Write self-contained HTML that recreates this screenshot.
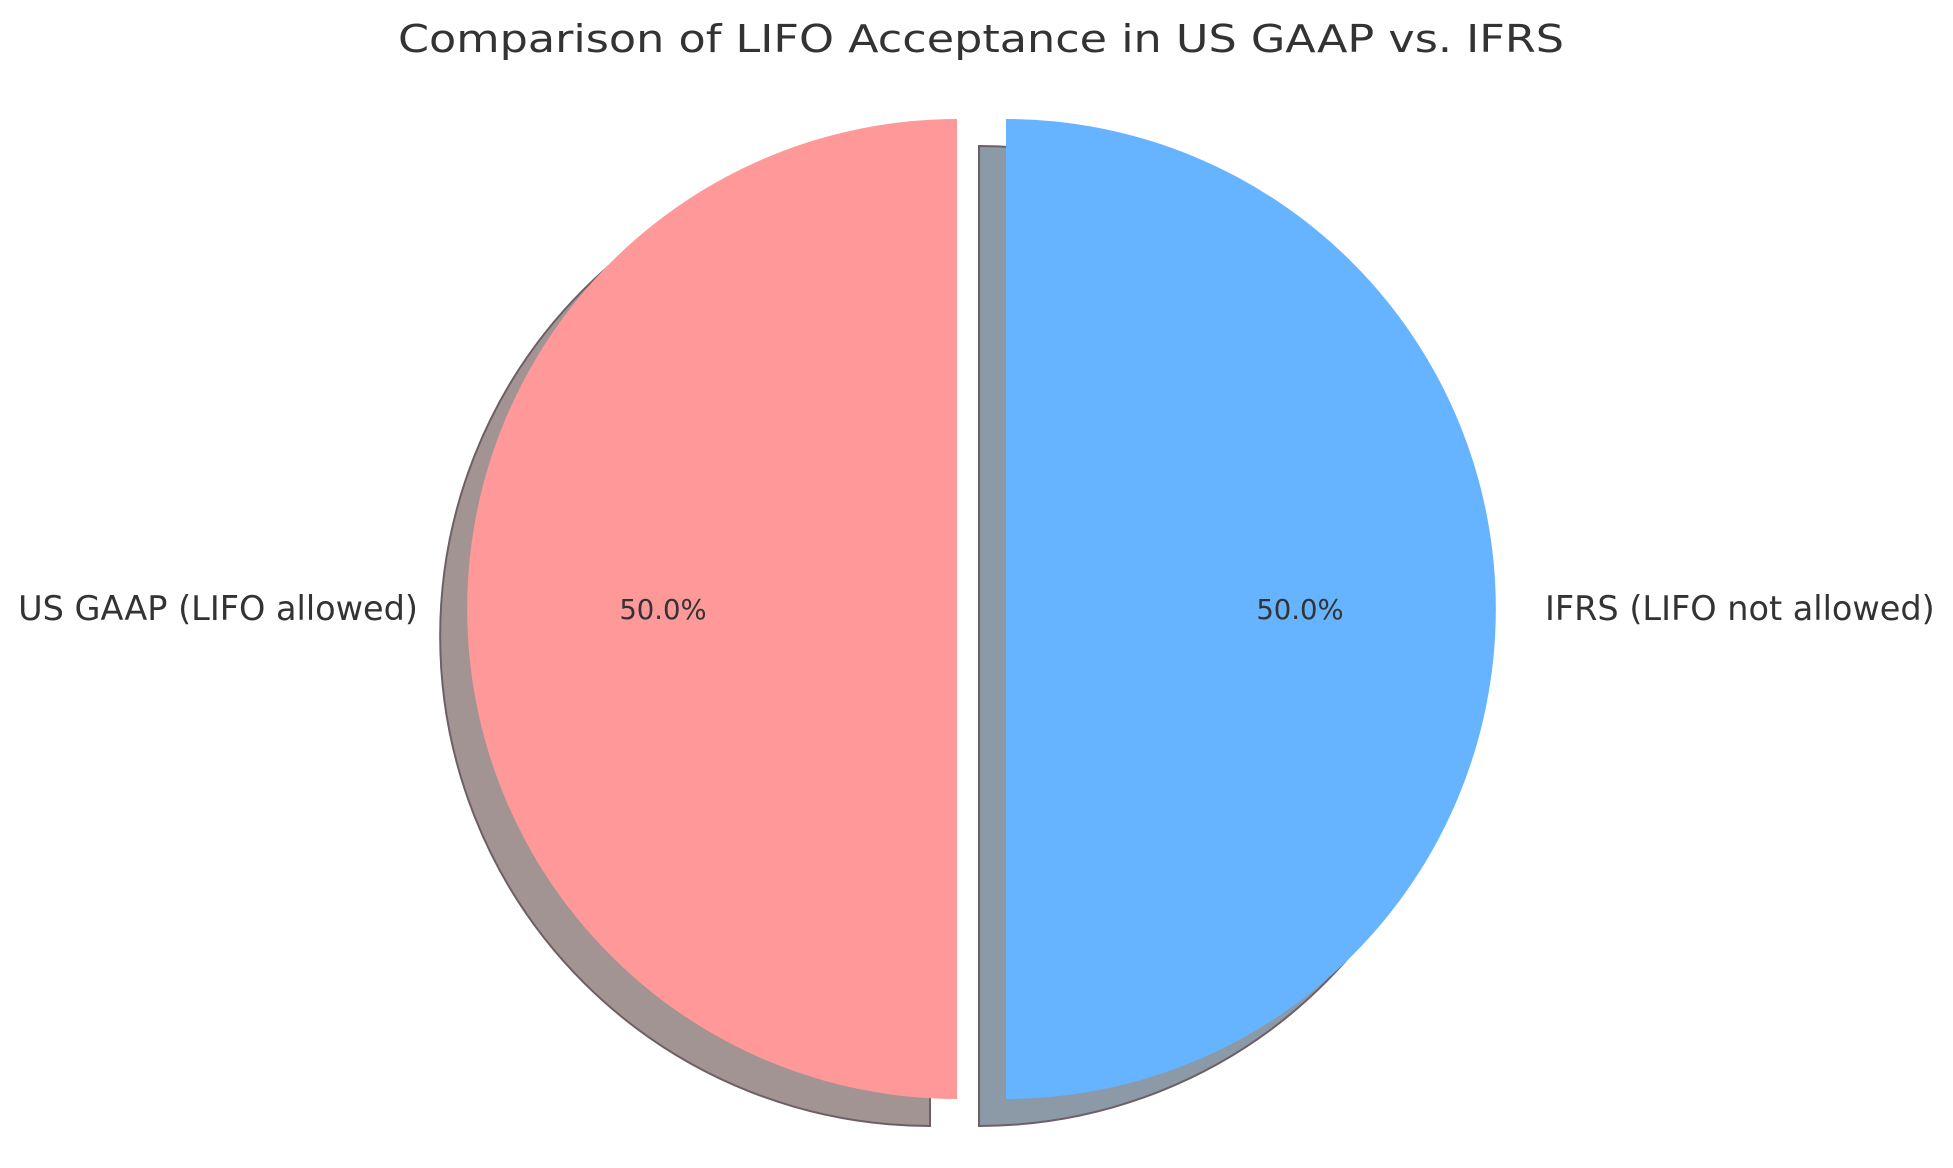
<!DOCTYPE html>
<html><head><meta charset="utf-8"><style>
html,body{margin:0;padding:0;background:#fff;}
svg{display:block;font-family:"DejaVu Sans","Liberation Sans",sans-serif;}
</style></head><body>
<svg id="chart" width="1953" height="1168" viewBox="0 0 1953 1168">
<text x="981" y="52" text-anchor="middle" font-size="38" fill="#333" textLength="1166" lengthAdjust="spacingAndGlyphs">Comparison of LIFO Acceptance in US GAAP vs. IFRS</text>
<g id="shadows"></g><g id="wedges"></g><g id="labels"></g>
</svg>
<script>
const categories = ["US GAAP (LIFO allowed)", "IFRS (LIFO not allowed)"];
const values = [50, 50];
const colors = ["#ff9999", "#66b3ff"];
const shadowColors = ["#a39494", "#8c9aa8"];
const explode = [0.05, 0.05];

const cx = 981.5, cy = 609, R = 490, startAngle = 90;
const NS = "http://www.w3.org/2000/svg";
const total = values.reduce((a,b)=>a+b,0);
const shadowG = document.getElementById('shadows');
const wedgeG = document.getElementById('wedges');
const labelG = document.getElementById('labels');
function pt(x,y,r,deg){const a=deg*Math.PI/180;return [x+r*Math.cos(a), y-r*Math.sin(a)];}
function wedgePath(x,y,a0,a1){
  const p0=pt(x,y,R,a0), p1=pt(x,y,R,a1);
  const large=(a1-a0)>180?1:0;
  return `M${x},${y} L${p0[0]},${p0[1]} A${R},${R} 0 ${large} 0 ${p1[0]},${p1[1]} Z`;
}
let ang = startAngle;
values.forEach((v,i)=>{
  const span = v/total*360, a0=ang, a1=ang+span, mid=(a0+a1)/2;
  const off = pt(0,0,explode[i]*R,mid);
  const x=cx+off[0], y=cy+off[1];
  const sh=document.createElementNS(NS,'path');
  sh.setAttribute('d',wedgePath(x-27,y+27,a0,a1));
  sh.setAttribute('fill',shadowColors[i]);
  sh.setAttribute('stroke','#6e5f66');
  sh.setAttribute('stroke-width','2');
  
  
  shadowG.appendChild(sh);
  const w=document.createElementNS(NS,'path');
  w.setAttribute('d',wedgePath(x,y,a0,a1));
  w.setAttribute('fill',colors[i]);
  
  
  wedgeG.appendChild(w);
  const lp=pt(x,y,R*1.1,mid);
  const t=document.createElementNS(NS,'text');
  t.setAttribute('x',lp[0]); t.setAttribute('y',lp[1]+11);
  t.setAttribute('text-anchor', Math.cos(mid*Math.PI/180)<0?'end':'start');
  t.setAttribute('font-size','33.5'); t.setAttribute('fill','#333');
  t.textContent=categories[i];
  
  
  labelG.appendChild(t);
  const pp=pt(x,y,R*0.6,mid);
  const p=document.createElementNS(NS,'text');
  p.setAttribute('x',pp[0]); p.setAttribute('y',pp[1]+10);
  p.setAttribute('text-anchor','middle');
  p.setAttribute('font-size','27.5'); p.setAttribute('fill','#333');
  p.textContent=(v/total*100).toFixed(1)+'%';
  
  
  labelG.appendChild(p);
  ang=a1;
});
</script>
</body></html>
